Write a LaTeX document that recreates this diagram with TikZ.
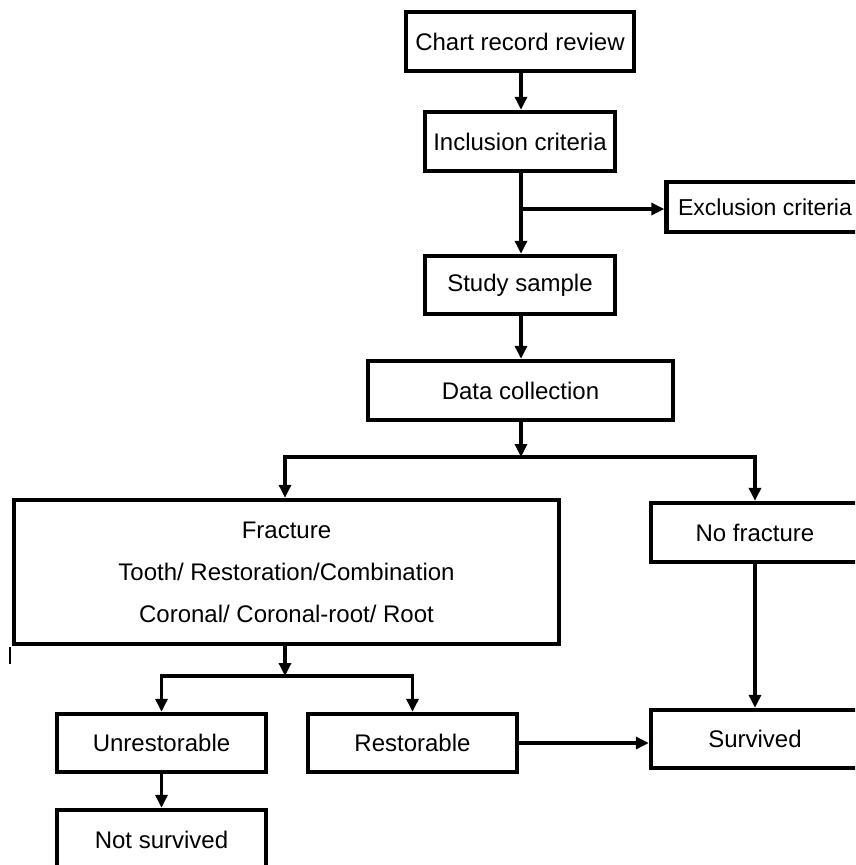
\documentclass[tikz,border=0pt]{standalone}
\usepackage{fontspec}
\setmainfont{Liberation Sans}
\usetikzlibrary{arrows.meta}
\tikzset{
  box/.style={draw=black, line width=4.4pt, fill=white, inner sep=0pt, align=center,
    font=\fontsize{24}{42}\selectfont},
  conn/.style={line width=3.8pt, black},
  arr/.style={conn, -{Triangle[length=13pt,width=12pt]}},
}
\begin{document}
\begin{tikzpicture}[x=1pt,y=-1pt]
\useasboundingbox (0,0) rectangle (855,865);
\clip (0,0) rectangle (855,865);
\fill[white] (0,0) rectangle (855,865);
% nodes
\node[box, minimum width=228pt, minimum height=59pt] (chart) at (520,41.5) {Chart record review};
\node[box, minimum width=190pt, minimum height=59pt] (incl) at (520,141.5) {Inclusion criteria};
\node[box, minimum width=197pt, minimum height=50pt, font=\fontsize{23}{28}\selectfont] (excl) at (765,207) {Exclusion criteria};
\node[box, minimum width=190pt, minimum height=58pt] (study) at (520,285) {Study sample};
\node[box, minimum width=305pt, minimum height=59pt] (data) at (520.5,390.5) {Data collection};
\node[box, minimum width=545pt, minimum height=144pt] (frac) at (286.5,572) {Fracture\\Tooth/ Restoration/Combination\\Coronal/ Coronal-root/ Root};
\node[box, minimum width=208pt, minimum height=59pt] (nofrac) at (755,532.5) {No fracture};
\node[box, minimum width=209pt, minimum height=58pt] (unrest) at (161.5,743) {Unrestorable};
\node[box, minimum width=209pt, minimum height=58pt] (rest) at (412.5,743) {Restorable};
\node[box, minimum width=208pt, minimum height=58pt] (surv) at (755,739) {Survived};
\node[box, minimum width=209pt, minimum height=60pt] (notsurv) at (161.5,840) {Not survived};
% junction coordinates
\coordinate (j1) at (521,209);
\coordinate (j2) at (521,457);
\coordinate (j3) at (285,676);
% connectors
\draw[arr] (chart.south -| j1) -- (incl.north -| j1);
\draw[conn] (incl.south -| j1) -- (j1);
\draw[arr] (j1) -- (excl.west |- j1);
\draw[arr] (j1) -- (study.north -| j1);
\draw[arr] (study.south -| j1) -- (data.north -| j1);
\draw[arr] (data.south -| j1) -- (j2);
\draw[arr] (j2) -| (frac.north -| j3);
\draw[arr] (j2) -| (nofrac.north);
\draw[arr] (frac.south -| j3) -- (j3);
\draw[arr] (j3) -| (unrest.north);
\draw[arr] (j3) -| (rest.north);
\draw[arr] (unrest.south) -- (notsurv.north);
\draw[arr] (nofrac.south) -- (surv.north);
\draw[arr] (rest.east) -- (surv.west |- rest.east);
% small stray edge mark below the fracture box
\coordinate (stray) at (10,647);
\draw[line width=1.6pt] (stray) -- ++(0,17);
\end{tikzpicture}
\end{document}
